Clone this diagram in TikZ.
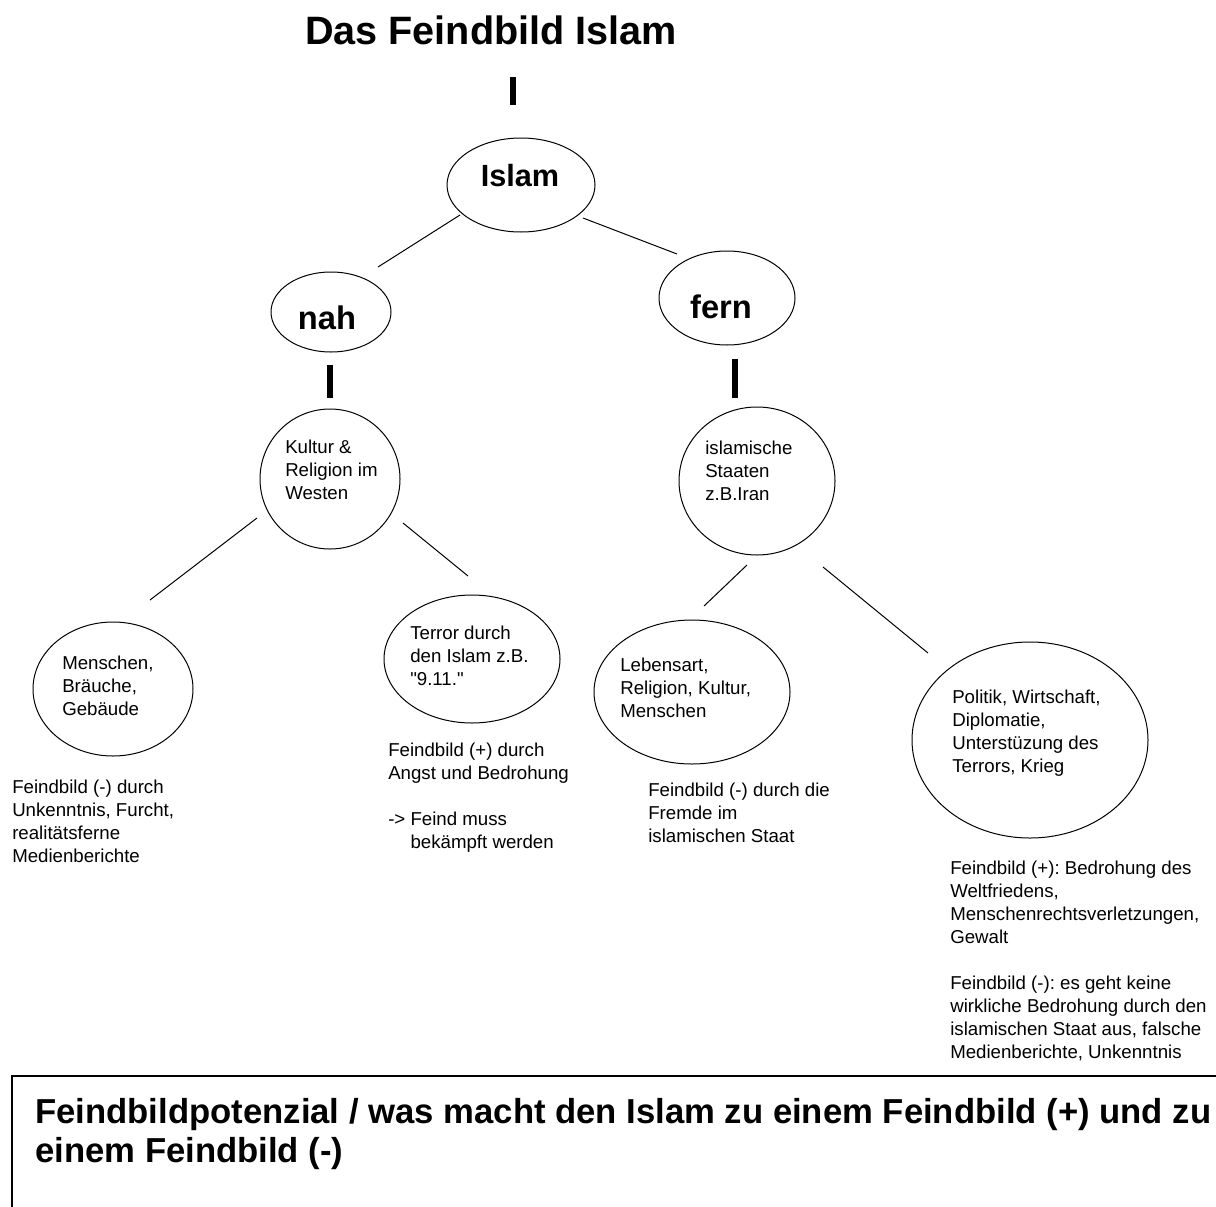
\documentclass[tikz,border=0pt]{standalone}
\usepackage{fontspec}
\setmainfont{Liberation Sans}[Ligatures=TeXOff]
\usetikzlibrary{shapes.geometric}
\frenchspacing

\begin{document}
\begin{tikzpicture}[x=0.75pt,y=-0.75pt,
        bub/.style 2 args={draw,ellipse,line width=0.75pt,inner sep=0pt,
                   minimum width=#1*1.5pt,minimum height=#2*1.5pt},
        txt/.style={anchor=base west,align=left,inner sep=0pt,
                   font=\fontsize{14}{17.25}\selectfont},
        big/.style={anchor=base,inner sep=0pt,font=\fontsize{#1}{#1}\selectfont\bfseries},
        ln/.style={line width=0.75pt},
        bar/.style={line width=4.5pt}]
      \useasboundingbox (0,0) rectangle (1216,1206);
      \clip (0,0) rectangle (1216,1206);
      % top of the tree
      \node[big=29.7] (title) at (491,45) {Das Feindbild Islam};
      \node[bub={74}{47}] (islam) at (521,185) {};
      \node[big=23] (islamtxt) at (520,186) {Islam};
      \node[bub={60}{40}] (nah) at (331,312) {};
      \node[big=24.5] (nahtxt) at (327,329) {nah};
      \node[bub={68}{47}] (fern) at (727,298) {};
      \node[big=24.5] (ferntxt) at (721,318) {fern};
      \draw[bar] ([shift={(-8,-60)}]islam.north) -- ([shift={(-8,-33)}]islam.north);
      \draw[ln] ([shift={(-61,30)}]islam.center) -- ([shift={(47,-45)}]nah.center);
      \draw[ln] ([shift={(62,33)}]islam.center) -- ([shift={(-50,-44)}]fern.center);
      \draw[bar] ([shift={(-1,12)}]nah.south) -- ([shift={(-1,45)}]nah.south);
      \draw[bar] ([shift={(8,13)}]fern.south) -- ([shift={(8,52)}]fern.south);
      % middle level (text nodes sit on their last line)
      \node[bub={70}{70}] (kultur) at (330,479) {};
      \node[txt] (kulturtxt) at (285,499.5) {Kultur \&\\Religion im\\Westen};
      \node[bub={78}{74}] (staaten) at (757,481) {};
      \node[txt] (staatentxt) at (705,500.5) {islamische\\Staaten\\z.B.Iran};
      % leaves
      \node[bub={80}{67}] (menschen) at (113,689) {};
      \node[txt] (menschentxt) at (62,715.5) {Menschen,\\Bräuche,\\Gebäude};
      \node[bub={88}{64}] (terror) at (472,659) {};
      \node[txt] (terrortxt) at (410,685.5) {Terror durch\\den Islam z.B.\\"9.11."};
      \node[bub={98}{72}] (lebensart) at (692,692) {};
      \node[txt] (lebensarttxt) at (620,717.5) {Lebensart,\\Religion, Kultur,\\Menschen};
      \node[bub={118}{98}] (politik) at (1030,740) {};
      \node[txt] (politiktxt) at (952,772.5)
        {Politik, Wirtschaft,\\Diplomatie,\\Unterstüzung des\\Terrors, Krieg};
      \draw[ln] ([shift={(-73,39)}]kultur.center) -- ([shift={(37,-89)}]menschen.center);
      \draw[ln] ([shift={(73,44)}]kultur.center) -- ([shift={(-4,-83)}]terror.center);
      \draw[ln] ([shift={(-10,84)}]staaten.center) -- ([shift={(12,-86)}]lebensart.center);
      \draw[ln] ([shift={(66,86)}]staaten.center) -- ([shift={(-102,-87)}]politik.center);
      % notes below the leaves
      \node[txt] (menschennote) at (12,862.5)
        {Feindbild (-) durch\\Unkenntnis, Furcht,\\realitätsferne\\Medienberichte};
      \node[txt] (terrornote) at (388,848.5)
        {Feindbild (+) durch\\Angst und Bedrohung\\[17.25pt]-> Feind muss\\\phantom{-> }bekämpft werden};
      \node[txt] (lebensartnote) at (648,842.5)
        {Feindbild (-) durch die\\Fremde im\\islamischen Staat};
      \node[txt] (politiknote) at (950,1058.5)
        {Feindbild (+): Bedrohung des\\Weltfriedens,\\Menschenrechtsverletzungen,\\Gewalt\\[17.25pt]%
         Feindbild (-): es geht keine\\wirkliche Bedrohung durch den\\islamischen Staat aus, falsche\\Medienberichte, Unkenntnis};
      % box at the bottom
      \draw[line width=1.5pt] (12,1220) -- (12,1076) -- (1230,1076);
      \node[anchor=base west,align=left,inner sep=0pt,font=\fontsize{26}{29}\selectfont\bfseries]
        (potenzial) at (35,1162)
        {Feindbildpotenzial / was macht den Islam zu einem Feindbild (+) und zu\\einem Feindbild (-)};
    \end{tikzpicture}
\end{document}
